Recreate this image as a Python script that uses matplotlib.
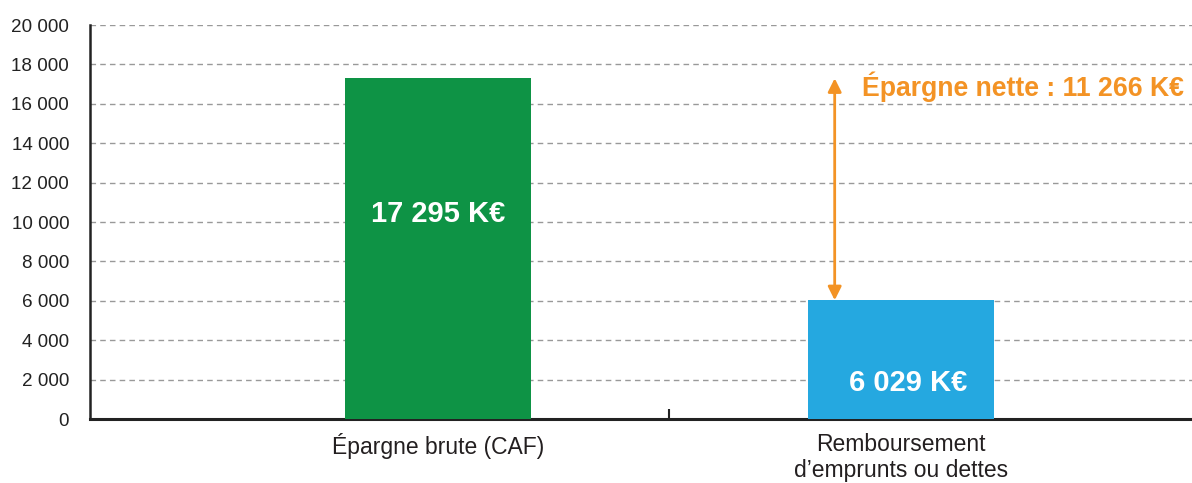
import matplotlib.pyplot as plt
from matplotlib.ticker import FuncFormatter

categories = ['Épargne brute (CAF)', 'Remboursement\nd’emprunts ou dettes']
valeurs = [17295, 6029]
etiquettes = ['17 295 K€', '6 029 K€']
epargne_nette = valeurs[0] - valeurs[1]
couleurs = ['#0E9345', '#25A8E0']
orange = '#F39325'

plt.rcParams['font.family'] = ['Liberation Sans', 'DejaVu Sans']

fig = plt.figure(figsize=(11.92, 4.83), dpi=100)
ax = fig.add_axes([0.0755, 0.1325, 0.9245, 0.8157])

x = [0, 1]
ax.bar(x, valeurs, width=0.402, color=couleurs, zorder=3)

# etiquettes dans les barres
ax.text(0, 10400, etiquettes[0], color='white', fontsize=21, fontweight='bold',
        ha='center', va='center', zorder=4)
ax.text(1.015, 1830, etiquettes[1], color='white', fontsize=21, fontweight='bold',
        ha='center', va='center', zorder=4)

# fleche epargne nette
ax.annotate('', xy=(0.857, valeurs[0]), xytext=(0.857, valeurs[1]),
            arrowprops=dict(arrowstyle='<|-|>', color=orange, lw=2,
                            mutation_scale=20, shrinkA=0, shrinkB=0), zorder=5)
ax.text(0.915, 16850, 'Épargne nette : ' + f'{epargne_nette:,}'.replace(',', ' ') + ' K€',
        color=orange, fontsize=19.2, fontweight='bold', ha='left', va='center')

ax.set_xlim(-0.752, 1.629)
ax.set_ylim(0, 20000)
ax.set_yticks(range(0, 20001, 2000))
ax.yaxis.set_major_formatter(FuncFormatter(lambda v, p: f'{int(v):,}'.replace(',', ' ')))
ax.tick_params(axis='y', length=0, pad=15, labelsize=13.6, colors='#222222')

ax.set_xticks([0.5], minor=True)
ax.set_xticks(x)
ax.set_xticklabels(categories, fontsize=16.5, color='#231F20', linespacing=1.2)
ax.tick_params(axis='x', which='major', length=0, pad=10)
ax.tick_params(axis='x', which='minor', length=7, width=1.5, direction='in', color='#222222')

ax.grid(axis='y', linestyle=(0, (4, 3)), color='#999999', linewidth=1, zorder=0)
ax.spines['top'].set_visible(False)
ax.spines['right'].set_visible(False)
ax.spines['left'].set_linewidth(1.8)
ax.spines['left'].set_color('#222222')
ax.spines['bottom'].set_linewidth(2.2)
ax.spines['bottom'].set_color('#222222')

plt.savefig('out.png', dpi=100)
